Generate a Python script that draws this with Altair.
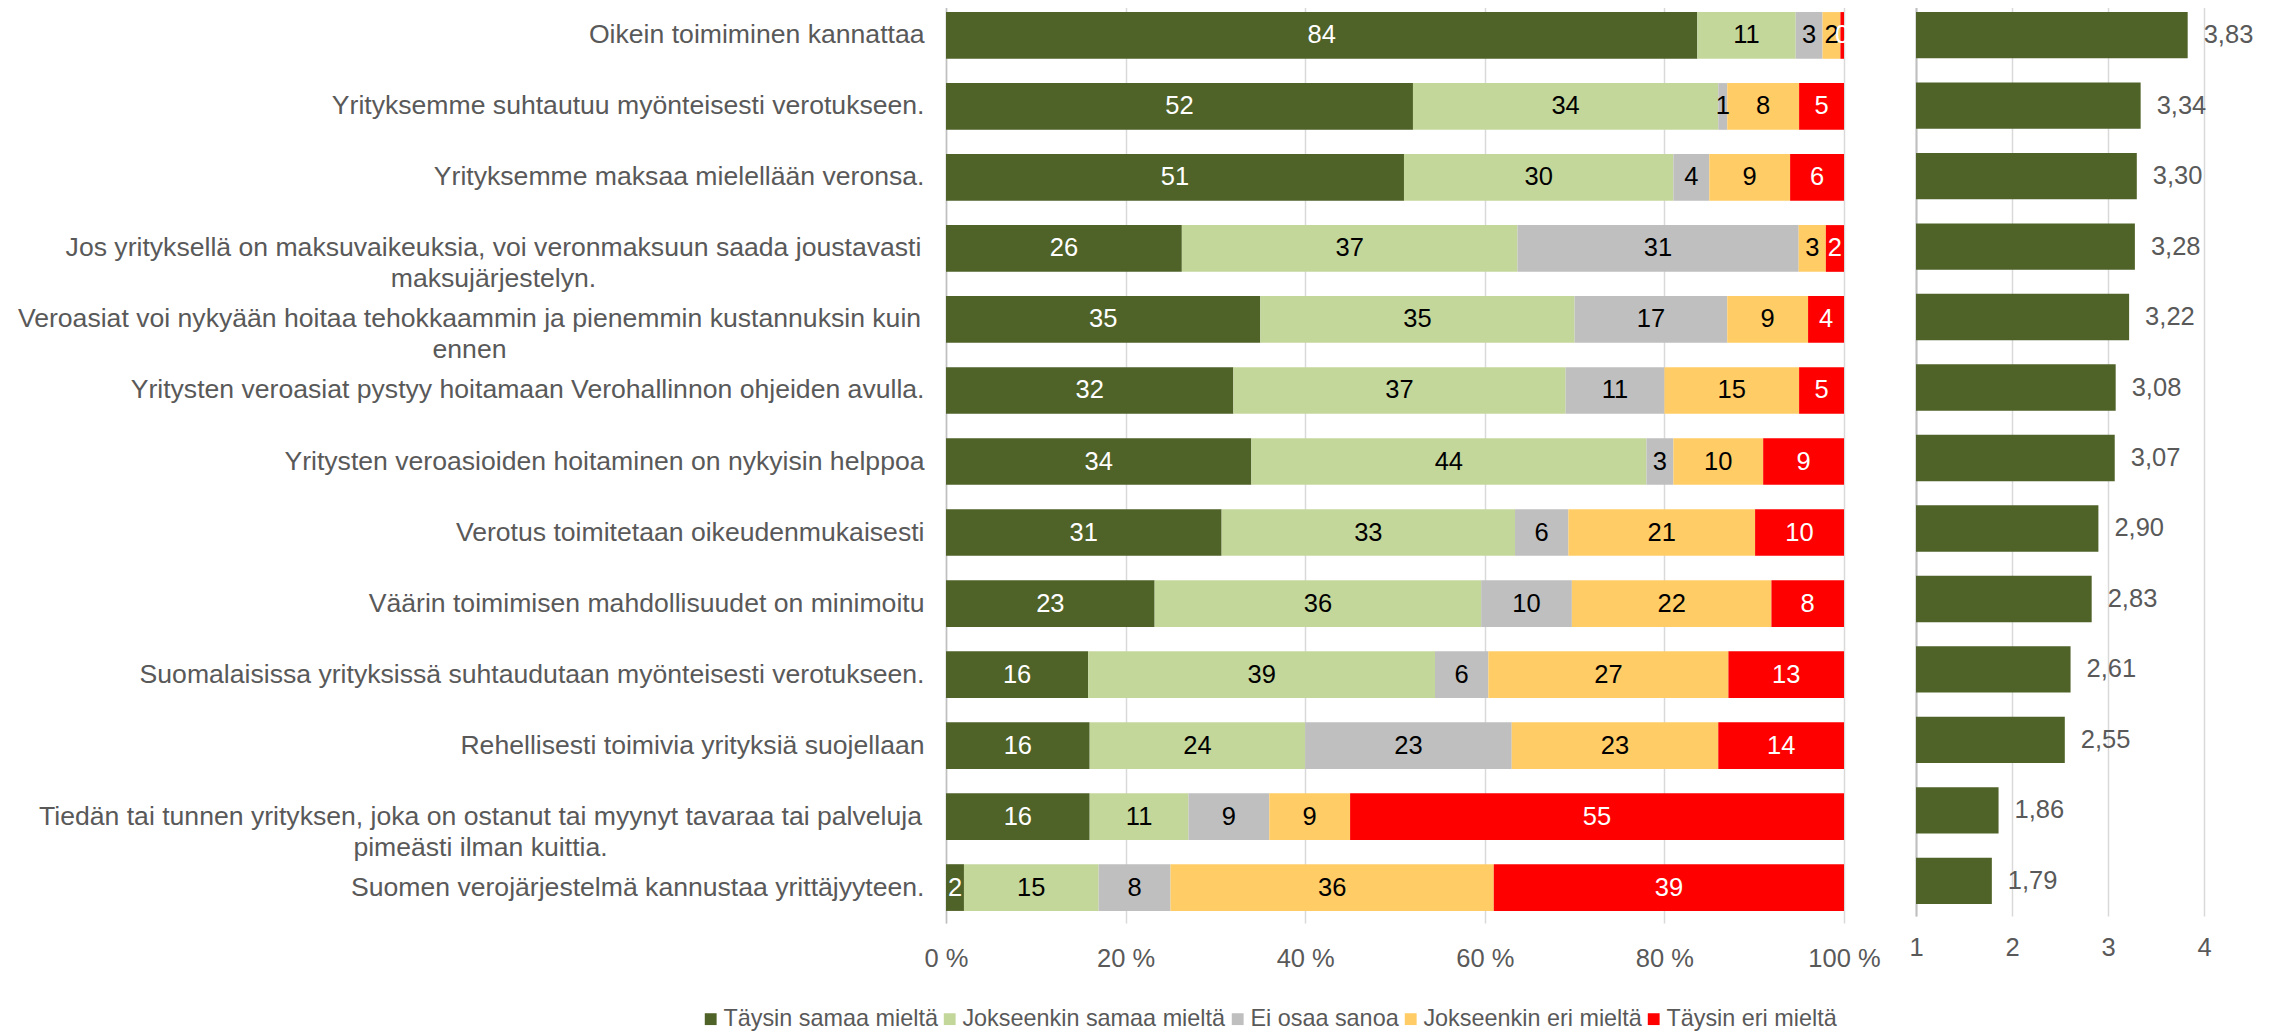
import altair as alt
import pandas as pd

questions = [
    "Oikein toimiminen kannattaa",
    "Yrityksemme suhtautuu myönteisesti verotukseen.",
    "Yrityksemme maksaa mielellään veronsa.",
    "Jos yrityksellä on maksuvaikeuksia, voi veronmaksuun saada joustavasti\nmaksujärjestelyn.",
    "Veroasiat voi nykyään hoitaa tehokkaammin ja pienemmin kustannuksin kuin\nennen",
    "Yritysten veroasiat pystyy hoitamaan Verohallinnon ohjeiden avulla. ",
    "Yritysten veroasioiden hoitaminen on nykyisin helppoa",
    "Verotus toimitetaan oikeudenmukaisesti",
    "Väärin toimimisen mahdollisuudet on minimoitu",
    "Suomalaisissa yrityksissä suhtaudutaan myönteisesti verotukseen.",
    "Rehellisesti toimivia yrityksiä suojellaan",
    "Tiedän tai tunnen yrityksen, joka on ostanut tai myynyt tavaraa tai palveluja\npimeästi ilman kuittia.",
    "Suomen verojärjestelmä kannustaa yrittäjyyteen.",
]
categories = ["Täysin samaa mieltä", "Jokseenkin samaa mieltä", "Ei osaa sanoa",
              "Jokseenkin eri mieltä", "Täysin eri mieltä"]
colors = ["#4F6228", "#C4D79B", "#BFBFBF", "#FFCC66", "#FF0000"]

taysin_samaa = [84, 52, 51, 26, 35, 32, 34, 31, 23, 16, 16, 16, 2]
jokseenkin_samaa = [11, 34, 30, 37, 35, 37, 44, 33, 36, 39, 24, 11, 15]
ei_osaa = [3, 1, 4, 31, 17, 11, 3, 6, 10, 6, 23, 9, 8]
jokseenkin_eri = [2, 8, 9, 3, 9, 15, 10, 21, 22, 27, 23, 9, 36]
taysin_eri = [0.4, 5, 6, 2, 4, 5, 9, 10, 8, 13, 14, 55, 39]
means = [3.83, 3.34, 3.30, 3.28, 3.22, 3.08, 3.07, 2.90, 2.83, 2.61, 2.55, 1.86, 1.79]

series = [taysin_samaa, jokseenkin_samaa, ei_osaa, jokseenkin_eri, taysin_eri]
rows = []
for ci, (cat, vals) in enumerate(zip(categories, series)):
    for q, v in zip(questions, vals):
        rows.append({"question": q, "category": cat, "order": ci, "value": v})
df = pd.DataFrame(rows)
df_mean = pd.DataFrame({"question": questions, "mean": means})

FONT = "Liberation Sans"
GREY_TXT = "#595959"

multi_test = "indexof(datum.value, '\\n') >= 0"

y_scale = alt.Scale(paddingInner=0.342, paddingOuter=0.17)
y_left = alt.Y(
    "question:N", sort=questions, title=None, scale=y_scale,
    axis=alt.Axis(
        labelFontSize=26.6, labelColor=GREY_TXT, labelLimit=1200,
        labelPadding={"condition": [
            {"test": "indexof(datum.value, 'maksujärjestelyn') >= 0", "value": 453},
            {"test": "indexof(datum.value, 'kuin\\nennen') >= 0", "value": 477},
            {"test": "indexof(datum.value, 'kuittia') >= 0", "value": 466},
        ], "value": 22},
        labelAlign={"condition": {"test": multi_test, "value": "center"}, "value": "right"},
        ticks=False, domainColor="#BFBFBF", domainWidth=1.5,
        labelExpr="split(datum.label, '\\n')", labelLineHeight=31,
    ),
)

base = alt.Chart(df).transform_stack(
    stack="value", groupby=["question"], as_=["x0", "x1"], offset="normalize",
    sort=[alt.SortField("order", order="ascending")],
).transform_calculate(
    mid="(datum.x0 + datum.x1) / 2",
    label="format(datum.value, '.0f')",
)

x_left = alt.X(
    "x0:Q", title=None,
    scale=alt.Scale(domain=[0, 1], nice=False),
    axis=alt.Axis(values=[0, 0.2, 0.4, 0.6, 0.8, 1.0], labelExpr="format(datum.value * 100, 'd') + ' %'",
                  grid=True, gridColor="#D9D9D9", gridWidth=1.5, domain=False, ticks=False,
                  labelFlush=False, labelFontSize=25.5, labelColor=GREY_TXT, labelPadding=23),
)

bars = base.mark_bar().encode(
    x=x_left,
    x2="x1:Q",
    y=y_left,
    color=alt.Color(
        "category:N",
        scale=alt.Scale(domain=categories, range=colors),
        legend=alt.Legend(orient="none", legendX=-247, legendY=1007, direction="horizontal",
                          title=None, symbolType="square", symbolSize=140, symbolStrokeWidth=0,
                          labelFontSize=23.4, labelColor=GREY_TXT, columnPadding=0, labelOffset=1,
                          labelLimit=500),
    ),
    order=alt.Order("order:Q"),
)

texts = base.mark_text(fontSize=25.5, baseline="middle", align="center").encode(
    x=alt.X("mid:Q"),
    y=y_left,
    text="label:N",
    color=alt.condition(
        "datum.category == 'Täysin samaa mieltä' || datum.category == 'Täysin eri mieltä'",
        alt.value("white"), alt.value("black"),
    ),
)

left = alt.layer(bars, texts).properties(width=898, height=923)

y_right = alt.Y(
    "question:N", sort=questions, title=None, scale=y_scale,
    axis=alt.Axis(labels=False, ticks=False, domainColor="#BFBFBF", domainWidth=2,
                  minExtent=0, maxExtent=0),
)
x_right = alt.X(
    "mean:Q", title=None,
    scale=alt.Scale(domain=[1, 4], nice=False, zero=False),
    axis=alt.Axis(values=[1, 2, 3, 4], format="d", grid=True, gridColor="#D9D9D9", gridWidth=1.5,
                  domain=False, ticks=False, labelFlush=False, labelFontSize=25.5,
                  labelColor=GREY_TXT, labelPadding=19),
)
rbase = alt.Chart(df_mean).transform_calculate(
    lbl="replace(format(datum.mean, '.2f'), '.', ',')"
)
rbars = rbase.mark_bar(color="#4F6228").encode(x=x_right, x2=alt.datum(1), y=y_right)
rtext = rbase.mark_text(align="left", baseline="middle", dx=16, fontSize=25.5, color=GREY_TXT).encode(
    x="mean:Q", y=y_right, text="lbl:N"
)
right = alt.layer(rbars, rtext).properties(width=288, height=916)

chart = alt.hconcat(left, right, spacing=72, bounds="flush").properties(
    padding={"left": 9, "top": -8, "right": 5, "bottom": 0}
).configure(font=FONT).configure_view(stroke=None)

chart.save("out.html", embed_options={"renderer": "svg", "actions": False})
